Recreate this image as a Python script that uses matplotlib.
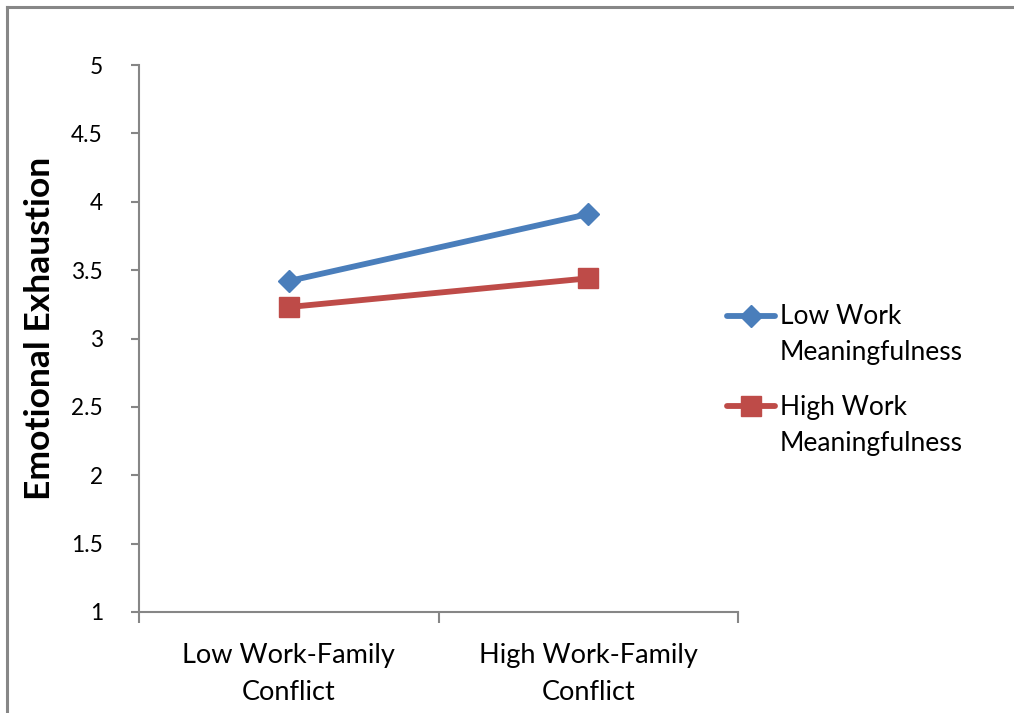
import matplotlib
matplotlib.use("Agg")
import matplotlib.pyplot as plt
from matplotlib.lines import Line2D
from matplotlib.ticker import FixedLocator, NullFormatter

categories = ["Low Work-Family\nConflict", "High Work-Family\nConflict"]
series_names = ["Low Work\nMeaningfulness", "High Work\nMeaningfulness"]
low_meaningfulness = [3.42, 3.91]
high_meaningfulness = [3.23, 3.44]
yticks = [1, 1.5, 2, 2.5, 3, 3.5, 4, 4.5, 5]
ytick_labels = ["1", "1.5", "2", "2.5", "3", "3.5", "4", "4.5", "5"]

plt.rcParams['font.family'] = ['Lato', 'DejaVu Sans']

W, H = 1014, 713
fig = plt.figure(figsize=(W / 100, H / 100), dpi=100)
ax = fig.add_axes([139 / W, 1 - 612 / H, (738 - 139) / W, (612 - 65) / H])

axis_color = "#868686"
blue = "#4A7EBB"
red = "#BE4B48"
styles = [dict(color=blue, marker="D", markersize=11),
          dict(color=red, marker="s", markersize=14)]

x = list(range(len(categories)))
for vals, st, name in zip([low_meaningfulness, high_meaningfulness], styles, series_names):
    ax.plot(x, vals, lw=4.2, label=name, solid_capstyle="round", zorder=3, **st)

ax.set_xlim(-0.5, len(categories) - 0.5)
ax.set_ylim(1, 5)
ax.set_yticks(yticks)
ax.set_yticklabels(ytick_labels, fontsize=16.3)
ax.xaxis.set_major_locator(FixedLocator([-0.5, 0.5, 1.5]))
ax.xaxis.set_major_formatter(NullFormatter())
ax.xaxis.set_minor_locator(FixedLocator(x))
ax.set_xticklabels(categories, minor=True, fontsize=19.5, linespacing=1.62)
ax.tick_params(axis="x", which="minor", length=0, pad=22)
ax.tick_params(axis="x", which="major", length=8, width=1.5, color=axis_color, direction="out")
ax.tick_params(axis="y", length=6, width=1.5, color=axis_color, direction="out", pad=20)

for s in ["top", "right"]:
    ax.spines[s].set_visible(False)
for s in ["left", "bottom"]:
    ax.spines[s].set_color(axis_color)
    ax.spines[s].set_linewidth(1.5)

fig.text(40 / W, 1 - 328 / H, "Emotional Exhaustion", rotation=90, fontsize=25.5,
         fontweight="bold", ha="center", va="center")

# legend (handle aligned with first text line, as in the original)
leg_rows_px = [316, 406]
for row, st, name in zip(leg_rows_px, styles, series_names):
    yf = 1 - row / H
    fig.add_artist(Line2D([727 / W, 775 / W], [yf, yf], transform=fig.transFigure,
                          lw=4.2, color=st["color"], solid_capstyle="round"))
    fig.add_artist(Line2D([751 / W], [yf], transform=fig.transFigure, linestyle="none",
                          **st))
    fig.text(780 / W, 1 - (row + 11) / H, name, fontsize=19, ha="left",
             va="center_baseline", linespacing=1.55)

top_y = 1 - 6.5 / H
left_x = 6.5 / W
fig.add_artist(Line2D([left_x, 1.0], [top_y, top_y], transform=fig.transFigure,
                      color="#878787", lw=2.2))
fig.add_artist(Line2D([left_x, left_x], [0.0, top_y], transform=fig.transFigure,
                      color="#878787", lw=2.2))

fig.savefig("out.png", dpi=100, facecolor="white")
